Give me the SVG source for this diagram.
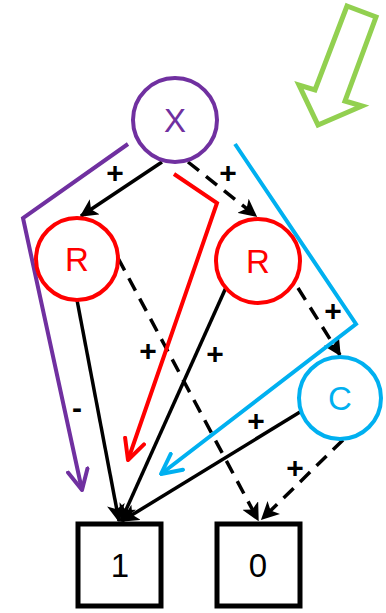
<svg xmlns="http://www.w3.org/2000/svg" width="386" height="613" viewBox="0 0 386 613">
<style>
.lbl{font-family:"Liberation Sans",Arial,sans-serif;font-size:33px;text-anchor:middle;dominant-baseline:central}
.sg{font-family:"Liberation Sans",Arial,sans-serif;font-size:30px;font-weight:bold;text-anchor:middle;dominant-baseline:central;fill:#000}
.e{stroke:#000;stroke-width:3.5;fill:none}
.d{stroke-dasharray:14 9}
.node{fill:#fff;stroke-width:4}
</style>
<defs>
<marker id="ah" viewBox="0 0 12 12" refX="11" refY="6" markerWidth="18" markerHeight="18" markerUnits="userSpaceOnUse" orient="auto"><path d="M0,0 L12,6 L0,12 L3,6 Z" fill="#000"/></marker>
<marker id="ap" viewBox="0 0 12 12" refX="11" refY="6" markerWidth="24" markerHeight="24" markerUnits="userSpaceOnUse" orient="auto"><path d="M1,1 L11,6 L1,11" fill="none" stroke="#7030A0" stroke-width="2" stroke-linecap="round" stroke-linejoin="round"/></marker>
<marker id="ar" viewBox="0 0 12 12" refX="11" refY="6" markerWidth="24" markerHeight="24" markerUnits="userSpaceOnUse" orient="auto"><path d="M1,1 L11,6 L1,11" fill="none" stroke="#FF0000" stroke-width="2" stroke-linecap="round" stroke-linejoin="round"/></marker>
<marker id="ab" viewBox="0 0 12 12" refX="11" refY="6" markerWidth="24" markerHeight="24" markerUnits="userSpaceOnUse" orient="auto"><path d="M1,1 L11,6 L1,11" fill="none" stroke="#00B0F0" stroke-width="2" stroke-linecap="round" stroke-linejoin="round"/></marker>
</defs>
<rect width="386" height="613" fill="#fff"/>
<polygon points="347,6 376,17 345,101 362,106 318,125 299,85 315,90" fill="none" stroke="#92D050" stroke-width="5"/>
<g id="connectors">
<line class="e" x1="162" y1="162" x2="81" y2="216" marker-end="url(#ah)"/>
<line class="e d" x1="188" y1="162" x2="256" y2="216" marker-end="url(#ah)"/>
<line class="e" x1="77" y1="300" x2="119" y2="521" marker-end="url(#ah)"/>
<line class="e d" x1="118" y1="258" x2="258" y2="520" marker-end="url(#ah)"/>
<line class="e" x1="228" y1="283" x2="121" y2="521" marker-end="url(#ah)"/>
<line class="e d" x1="298" y1="288" x2="340" y2="355" marker-end="url(#ah)"/>
<line class="e" x1="300" y1="412" x2="122" y2="521" marker-end="url(#ah)"/>
<line class="e d" x1="343" y1="440" x2="262" y2="519" marker-end="url(#ah)"/>
<polyline points="128,144 23,218 82,490" fill="none" stroke="#7030A0" stroke-width="4" marker-end="url(#ap)"/>
<polyline points="174,174 217,203 128,460" fill="none" stroke="#FF0000" stroke-width="4" marker-end="url(#ar)"/>
<polyline points="235,144 356,324 161,474" fill="none" stroke="#00B0F0" stroke-width="4" marker-end="url(#ab)"/>
<text class="sg" x="115" y="172">+</text>
<text class="sg" x="228" y="172">+</text>
<text class="sg" x="148" y="350">+</text>
<text class="sg" x="215" y="353">+</text>
<text class="sg" x="333" y="310">+</text>
<text class="sg" x="256" y="420">+</text>
<text class="sg" x="295" y="467">+</text>
<text class="sg" x="77" y="407">-</text>
</g>
<g id="X"><circle class="node" cx="175" cy="120" r="42" stroke="#7030A0"/><text class="lbl" x="175" y="120" fill="#7030A0">X</text></g>
<g id="R1"><circle class="node" cx="77" cy="259" r="41" stroke="#FF0000"/><text class="lbl" x="77" y="259" fill="#FF0000">R</text></g>
<g id="R2"><circle class="node" cx="258" cy="261" r="42" stroke="#FF0000"/><text class="lbl" x="258" y="261" fill="#FF0000">R</text></g>
<g id="C"><circle class="node" cx="340" cy="398" r="41" stroke="#00B0F0"/><text class="lbl" x="340" y="398" fill="#00B0F0">C</text></g>
<g id="one"><rect x="78" y="524" width="83" height="82" fill="#fff" stroke="#000" stroke-width="5"/><text class="lbl" x="120" y="565" fill="#000">1</text></g>
<g id="zero"><rect x="217" y="524" width="83" height="82" fill="#fff" stroke="#000" stroke-width="5"/><text class="lbl" x="258" y="565" fill="#000">0</text></g>
</svg>
